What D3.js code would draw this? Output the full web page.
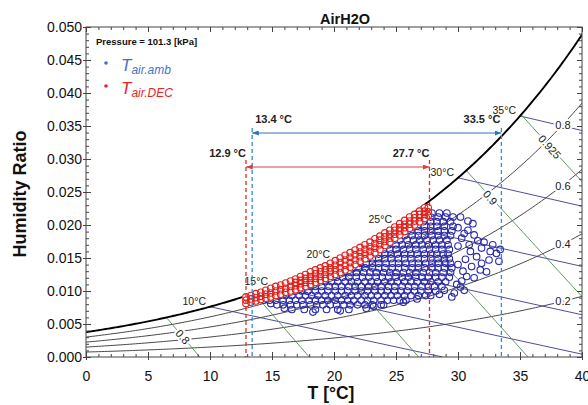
<!DOCTYPE html>
<html>
<head>
<meta charset="utf-8">
<script src="https://cdn.jsdelivr.net/npm/d3@7"></script>
<style>
  body { margin: 0; background: #fff; }
  text { font-family: Arial, "Liberation Sans", sans-serif; }
</style>
</head>
<body>
<div id="chart"></div>
<script>
// chart values
const pressure = 101.3;
const xTicks = [0, 5, 10, 15, 20, 25, 30, 35, 40];
const yTicks = [0, 0.005, 0.01, 0.015, 0.02, 0.025, 0.03, 0.035, 0.04, 0.045, 0.05];
const rhLevels = [0.2, 0.4, 0.6, 0.8];
const wetBulbTemps = [10, 15, 20, 25, 30, 35];
const volumeLevels = [0.8, 0.825, 0.85, 0.875, 0.9, 0.925];
const volumeLabelled = [0.8, 0.9, 0.925];
const ambRange = [13.4, 33.5];
const decRange = [12.9, 27.7];

// ambient air points, rows of [humidity ratio, [temperatures]]
const ambRows = [
  [.0072, [16.6, 17.6, 18.5, 19.4, 20.3, 21.2]],
  [.0079, [15.4, 15.9, 16.5, 17.0, 17.5, 18.1, 18.6, 19.1, 19.7, 20.2, 20.8, 21.3, 21.9, 22.5, 23.1, 23.8]],
  [.0086, [14.3, 14.8, 15.3, 15.9, 16.4, 16.9, 17.4, 18.0, 18.5, 19.0, 19.5, 20.1, 20.6, 21.1, 21.6, 22.2, 22.7, 23.2, 23.8, 24.3, 24.8, 25.3, 25.8]],
  [.0093, [15.6, 16.1, 16.6, 17.2, 17.7, 18.2, 18.7, 19.3, 19.8, 20.3, 20.9, 21.4, 21.9, 22.5, 23.0, 23.5, 24.1, 24.6, 25.1, 25.7, 26.2, 26.8, 27.4]],
  [.0100, [16.9, 17.4, 17.9, 18.5, 19.0, 19.5, 20.1, 20.6, 21.1, 21.7, 22.2, 22.7, 23.3, 23.8, 24.3, 24.9, 25.4, 25.9, 26.5, 27.0, 27.6, 28.2]],
  [.0107, [18.0, 18.5, 19.0, 19.6, 20.1, 20.6, 21.2, 21.7, 22.2, 22.8, 23.3, 23.8, 24.4, 24.9, 25.5, 26.0, 26.5, 27.1, 27.6, 28.1, 28.7]],
  [.0114, [19.3, 19.8, 20.3, 20.9, 21.4, 21.9, 22.5, 23.0, 23.5, 24.1, 24.6, 25.1, 25.7, 26.2, 26.7, 27.3, 27.8, 28.4, 29.0]],
  [.0121, [20.2, 20.7, 21.2, 21.8, 22.3, 22.8, 23.4, 23.9, 24.4, 25.0, 25.5, 26.0, 26.6, 27.1, 27.6, 28.2, 28.7, 29.3]],
  [.0128, [20.8, 21.3, 21.8, 22.4, 22.9, 23.4, 24.0, 24.5, 25.0, 25.6, 26.1, 26.6, 27.2, 27.7, 28.2, 28.8, 29.4]],
  [.0135, [21.5, 22.0, 22.5, 23.1, 23.6, 24.1, 24.7, 25.2, 25.7, 26.3, 26.8, 27.3, 27.9, 28.4, 28.9, 29.5]],
  [.0142, [22.1, 22.6, 23.1, 23.6, 24.2, 24.7, 25.2, 25.8, 26.3, 26.8, 27.4, 27.9, 28.4, 29.0, 29.4]],
  [.0149, [22.6, 23.1, 23.6, 24.1, 24.6, 25.2, 25.7, 26.2, 26.8, 27.3, 27.8, 28.4, 28.9, 29.3]],
  [.0156, [23.1, 23.6, 24.1, 24.6, 25.1, 25.7, 26.2, 26.7, 27.3, 27.8, 28.3, 28.8, 29.2]],
  [.0163, [23.5, 24.0, 24.5, 25.0, 25.6, 26.1, 26.6, 27.2, 27.7, 28.2, 28.7, 29.3]],
  [.0170, [23.9, 24.4, 25.0, 25.5, 26.0, 26.6, 27.1, 27.6, 28.2, 28.7, 29.2]],
  [.0177, [24.3, 24.8, 25.3, 25.9, 26.4, 26.9, 27.5, 28.0, 28.5, 29.1]],
  [.0184, [24.7, 25.2, 25.7, 26.3, 26.8, 27.3, 27.9, 28.4, 28.9, 29.4]],
  [.0191, [25.2, 25.7, 26.2, 26.8, 27.3, 27.8, 28.4, 28.9, 29.5]],
  [.0198, [25.7, 26.2, 26.7, 27.3, 27.8, 28.3, 28.9, 29.6]],
  [.0205, [26.2, 26.7, 27.2, 27.8, 28.3, 28.8, 29.4]],
  [.0212, [26.8, 27.3, 27.8, 28.4, 29.0, 29.6]],
  [.0218, [27.4, 27.9, 28.5, 29.1]]
];
// scattered ambient points [T, w]
const ambExtra = [
  [30.2, .0212], [30.8, .0206], [31.2, .0202], [30.0, .0196], [30.8, .0192], [31.6, .0176],
  [32.1, .0174], [32.8, .0170], [33.4, .0163], [33.1, .0157], [33.3, .0145], [32.5, .0147],
  [31.9, .0142], [31.5, .0152], [31.0, .0160], [30.6, .0148], [31.8, .0132], [32.3, .0129],
  [31.1, .0137], [30.7, .0122], [30.3, .0115], [30.2, .0106], [30.5, .0101], [29.7, .0097],
  [29.5, .0091], [28.5, .0095], [30.0, .0140], [30.3, .0180], [30.0, .0168], [30.5, .0187],
  [31.3, .0185], [32.6, .0160], [31.9, .0165], [30.4, .0130], [31.3, .0120], [29.9, .0110],
  [30.9, .0170], [18.3, .0068], [20.5, .0070], [22.6, .0074], [24.0, .0079], [25.6, .0083],
  [26.7, .0088], [16.0, .0074], [14.9, .0081], [23.2, .0077], [27.8, .0093], [28.9, .0101]
];
// DEC outlet points, columns of [T, [humidity ratios]]
const decCols = [
  [12.9, [.0081, .0086, .0091]], [13.3, [.0083, .0088, .0093]], [13.7, [.0085, .0090, .0096]],
  [14.1, [.0087, .0092, .0098]], [14.5, [.0089, .0095, .0101]], [14.9, [.0091, .0097, .0104]],
  [15.3, [.0093, .0100, .0107]], [15.7, [.0095, .0102, .0109]], [16.1, [.0098, .0104, .0112]],
  [16.5, [.0100, .0107, .0115]], [16.9, [.0102, .0108, .0113, .0118]],
  [17.3, [.0105, .0111, .0116, .0122]], [17.7, [.0107, .0113, .0119, .0125]],
  [18.1, [.0110, .0116, .0122, .0129]], [18.5, [.0113, .0119, .0126, .0132]],
  [18.9, [.0116, .0122, .0129, .0135]], [19.3, [.0119, .0125, .0132, .0138]],
  [19.7, [.0122, .0129, .0135, .0142]], [20.1, [.0125, .0132, .0139, .0146]],
  [20.5, [.0128, .0135, .0143, .0150]], [20.9, [.0132, .0139, .0147, .0154]],
  [21.3, [.0136, .0143, .0151, .0158]], [21.7, [.0140, .0147, .0155, .0162]],
  [22.1, [.0145, .0152, .0159, .0166]], [22.5, [.0149, .0156, .0163, .0170]],
  [22.9, [.0153, .0160, .0167, .0174]], [23.3, [.0158, .0165, .0172, .0179]],
  [23.7, [.0163, .0170, .0177, .0183]], [24.1, [.0169, .0175, .0182, .0188]],
  [24.5, [.0174, .0180, .0186, .0192]], [24.9, [.0180, .0186, .0192, .0197]],
  [25.3, [.0185, .0191, .0196, .0202]], [25.7, [.0190, .0196, .0201, .0207]],
  [26.1, [.0195, .0201, .0206, .0212]], [26.5, [.0200, .0206, .0211, .0216]],
  [26.9, [.0205, .0211, .0216, .0221]], [27.3, [.0210, .0216, .0221, .0226]],
  [27.6, [.0214, .0220, .0226]]
];

// psychrometric helpers
function pws(t) { return 0.61094 * Math.exp(17.625 * t / (t + 243.04)); }
function wAtRh(t, rh) { const p = rh * pws(t); return 0.621945 * p / (pressure - p); }
function wWetBulb(t, tw) {
  const ws = wAtRh(tw, 1);
  return ((2501 - 2.326 * tw) * ws - 1.006 * (t - tw)) / (2501 + 1.86 * t - 4.186 * tw);
}
function wVolume(t, v) { return (v * pressure / (0.287042 * (t + 273.15)) - 1) / 1.607858; }

const W = 588, H = 405;
const svg = d3.select("#chart").append("svg").attr("width", W).attr("height", H);

const x = d3.scaleLinear().domain([0, 40]).range([86, 582]);
const y = d3.scaleLinear().domain([0, 0.05]).range([357, 27]);

svg.append("clipPath").attr("id", "plotclip").append("rect")
  .attr("x", x(0)).attr("y", y(0.05)).attr("width", x(40) - x(0)).attr("height", y(0) - y(0.05));

const plot = svg.append("g").attr("clip-path", "url(#plotclip)");
const line = d3.line().x(d => x(d[0])).y(d => y(d[1]));

// relative humidity curves
rhLevels.forEach(rh => {
  const pts = d3.range(0, 40.6, 0.25).map(t => [t, wAtRh(t, rh)]);
  plot.append("path").attr("d", line(pts)).attr("fill", "none")
    .attr("stroke", "#333").attr("stroke-width", 0.9);
});

// wet bulb lines
wetBulbTemps.forEach(tw => {
  const tEnd = tw + (2501 - 2.326 * tw) * wAtRh(tw, 1) / 1.006;
  const pts = [[tw, wWetBulb(tw, tw)], [Math.min(tEnd, 45), wWetBulb(Math.min(tEnd, 45), tw)]];
  plot.append("path").attr("d", line(pts)).attr("fill", "none")
    .attr("stroke", "#3a3a8c").attr("stroke-width", 0.9);
});

// specific volume lines
volumeLevels.forEach(v => {
  let lo = -10, hi = 50;
  for (let i = 0; i < 60; i++) {
    const m = (lo + hi) / 2;
    if (wVolume(m, v) > wAtRh(m, 1)) lo = m; else hi = m;
  }
  const tEnd = Math.min(v * pressure / 0.287042 - 273.15, 45);
  const pts = [[lo, wVolume(lo, v)], [tEnd, wVolume(tEnd, v)]];
  plot.append("path").attr("d", line(pts)).attr("fill", "none")
    .attr("stroke", "#4f8f4f").attr("stroke-width", 0.9);
});

// saturation curve
const satPts = d3.range(0, 40.6, 0.2).map(t => [t, wAtRh(t, 1)]);
plot.append("path").attr("d", line(satPts)).attr("fill", "none")
  .attr("stroke", "#000").attr("stroke-width", 1.9);

// labels on grid lines (white halo hides the line underneath)
const halo = sel => sel.attr("stroke", "#fff").attr("stroke-width", 4)
  .attr("paint-order", "stroke").attr("stroke-linejoin", "round");

rhLevels.forEach(rh => {
  plot.append("text").attr("x", 563).attr("y", y(wAtRh(38.4, rh)) + 4)
    .attr("text-anchor", "middle").attr("font-size", 11).attr("fill", "#222")
    .text(rh).call(halo);
});

const volLabelT = {0.8: 7.8, 0.9: 32.6, 0.925: 37.4};
volumeLabelled.forEach(v => {
  const t = volLabelT[v];
  const px = x(t), py = y(wVolume(t, v));
  const dy = y(wVolume(t + 1, v)) - py, dx = x(t + 1) - px;
  const ang = Math.atan2(dy, dx) * 180 / Math.PI;
  plot.append("text").attr("transform", `translate(${px},${py}) rotate(${ang})`)
    .attr("text-anchor", "middle").attr("dy", 4).attr("font-size", 11).attr("fill", "#222")
    .text(v).call(halo);
});

wetBulbTemps.forEach(tw => {
  svg.append("text").attr("x", x(tw) - 4).attr("y", y(wAtRh(tw, 1)) - 2)
    .attr("text-anchor", "end").attr("font-size", 10.5).attr("fill", "#222")
    .text(tw + "°C");
});

// data points: ambient first, DEC outlet on top
const decPts = decCols.flatMap(c => c[1].map(w => [c[0], w]));
const ambPts = ambRows.flatMap(r => r[1].map(t => [t, r[0]])).concat(ambExtra);

plot.append("g").selectAll("circle").data(ambPts).enter().append("circle")
  .attr("cx", d => x(d[0])).attr("cy", d => y(d[1])).attr("r", 3.3)
  .attr("fill", "none").attr("stroke", "#2a2aaa").attr("stroke-width", 1.1);

// white backing so ambient rings do not show through the DEC band
plot.append("g").selectAll("circle").data(decPts).enter().append("circle")
  .attr("cx", d => x(d[0])).attr("cy", d => y(d[1])).attr("r", 3.8)
  .attr("fill", "#fff");

plot.append("g").selectAll("circle").data(decPts).enter().append("circle")
  .attr("cx", d => x(d[0])).attr("cy", d => y(d[1])).attr("r", 3.3)
  .attr("fill", "none").attr("stroke", "#e0201c").attr("stroke-width", 1.1);

// range markers
const defs = svg.append("defs");
[["arrBlue", "#2f75b5"], ["arrRed", "#d9413f"]].forEach(([id, c]) => {
  defs.append("marker").attr("id", id).attr("viewBox", "0 0 8 6")
    .attr("refX", 8).attr("refY", 3).attr("markerWidth", 7).attr("markerHeight", 5)
    .attr("orient", "auto-start-reverse")
    .append("path").attr("d", "M0,0L8,3L0,6z").attr("fill", c);
});

function rangeMarker(range, color, arrowColor, marker, topY, arrowY, labelY) {
  range.forEach(t => {
    svg.append("line").attr("x1", x(t)).attr("x2", x(t)).attr("y1", topY).attr("y2", y(0))
      .attr("stroke", color).attr("stroke-width", 1.3).attr("stroke-dasharray", "4,3");
  });
  svg.append("line").attr("x1", x(range[0])).attr("x2", x(range[1]))
    .attr("y1", arrowY).attr("y2", arrowY).attr("stroke", arrowColor).attr("stroke-width", 1)
    .attr("marker-start", `url(#${marker})`).attr("marker-end", `url(#${marker})`);
  return range.map(t => svg.append("text").attr("y", labelY)
    .attr("font-family", "'Liberation Serif', 'Times New Roman', serif")
    .attr("font-weight", "bold").attr("font-size", 11).attr("fill", "#222")
    .text(t.toFixed(1) + " °C"));
}

const ambLab = rangeMarker(ambRange, "#2e8ae0", "#2f75b5", "arrBlue", 128, 133, 123);
ambLab[0].attr("x", x(ambRange[0]) + 3).attr("text-anchor", "start");
ambLab[1].attr("x", x(ambRange[1]) - 1).attr("text-anchor", "end");
const decLab = rangeMarker(decRange, "#e8262a", "#d9413f", "arrRed", 160, 167, 157);
decLab[0].attr("x", x(decRange[0])).attr("text-anchor", "end");
decLab[1].attr("x", x(decRange[1])).attr("text-anchor", "end");

// axes and ticks
const xMinor = d3.range(0, 41, 1).filter(v => v % 5 !== 0);
const yMinor = d3.range(0, 51, 1).filter(v => v % 5 !== 0).map(v => v / 1000);

function tickAxis(axisFn, scale, values, size, transform) {
  svg.append("g").attr("transform", transform)
    .call(axisFn(scale).tickValues(values).tickSize(size).tickFormat(""))
    .call(g => g.select(".domain").remove())
    .call(g => g.selectAll("line").attr("stroke", "#444"));
}
tickAxis(d3.axisBottom, x, xTicks, -5, `translate(0,${y(0)})`);
tickAxis(d3.axisBottom, x, xMinor, -3, `translate(0,${y(0)})`);
tickAxis(d3.axisBottom, x, xTicks, 3, `translate(0,${y(0)})`);
tickAxis(d3.axisTop, x, xTicks, -5, `translate(0,${y(0.05)})`);
tickAxis(d3.axisTop, x, xMinor, -3, `translate(0,${y(0.05)})`);
tickAxis(d3.axisLeft, y, yTicks, -5, `translate(${x(0)},0)`);
tickAxis(d3.axisLeft, y, yMinor, -3, `translate(${x(0)},0)`);
tickAxis(d3.axisLeft, y, yTicks, 3, `translate(${x(0)},0)`);
tickAxis(d3.axisRight, y, yTicks, -5, `translate(${x(40)},0)`);
tickAxis(d3.axisRight, y, yMinor, -3, `translate(${x(40)},0)`);

svg.append("g").attr("transform", `translate(0,${y(0)})`)
  .call(d3.axisBottom(x).tickValues(xTicks).tickSize(0).tickPadding(14).tickFormat(d3.format("d")))
  .call(g => g.select(".domain").remove())
  .call(g => g.selectAll("text").attr("font-size", 14).attr("fill", "#111")
    .attr("font-family", "Arial, 'Liberation Sans', sans-serif"));

svg.append("g").attr("transform", `translate(${x(0)},0)`)
  .call(d3.axisLeft(y).tickValues(yTicks).tickSize(0).tickPadding(4).tickFormat(d3.format(".3f")))
  .call(g => g.select(".domain").remove())
  .call(g => g.selectAll("text").attr("font-size", 14).attr("fill", "#111")
    .attr("font-family", "Arial, 'Liberation Sans', sans-serif"));

svg.append("rect").attr("x", x(0)).attr("y", y(0.05))
  .attr("width", x(40) - x(0)).attr("height", y(0) - y(0.05))
  .attr("fill", "none").attr("stroke", "#444").attr("stroke-width", 1);

// titles
svg.append("text").attr("x", 345).attr("y", 24).attr("text-anchor", "middle")
  .attr("font-weight", "bold").attr("font-size", 14.5).attr("fill", "#111").text("AirH2O");
svg.append("text").attr("transform", "translate(26,194) rotate(-90)").attr("text-anchor", "middle")
  .attr("font-weight", "bold").attr("font-size", 18).attr("fill", "#111").text("Humidity Ratio");
svg.append("text").attr("x", 331).attr("y", 399).attr("text-anchor", "middle")
  .attr("font-weight", "bold").attr("font-size", 17.5).attr("fill", "#111").text("T [°C]");

// legend
svg.append("text").attr("x", 96).attr("y", 45).attr("font-weight", "bold")
  .attr("font-size", 9.5).attr("fill", "#111").text("Pressure = " + pressure + " [kPa]");

const legendItems = [["air.amb", "#4472c4", 71], ["air.DEC", "#e8231f", 94]];
legendItems.forEach(([sub, c, by]) => {
  svg.append("circle").attr("cx", 106).attr("cy", by - 8).attr("r", 1.8).attr("fill", c);
  const t = svg.append("text").attr("x", 121).attr("y", by)
    .attr("font-family", "'Liberation Serif', 'Times New Roman', serif")
    .attr("font-style", "italic").attr("fill", c);
  t.append("tspan").attr("font-size", 17).text("T");
  t.append("tspan").attr("font-size", 12).attr("dy", 3).text(sub);
});
</script>
</body>
</html>
